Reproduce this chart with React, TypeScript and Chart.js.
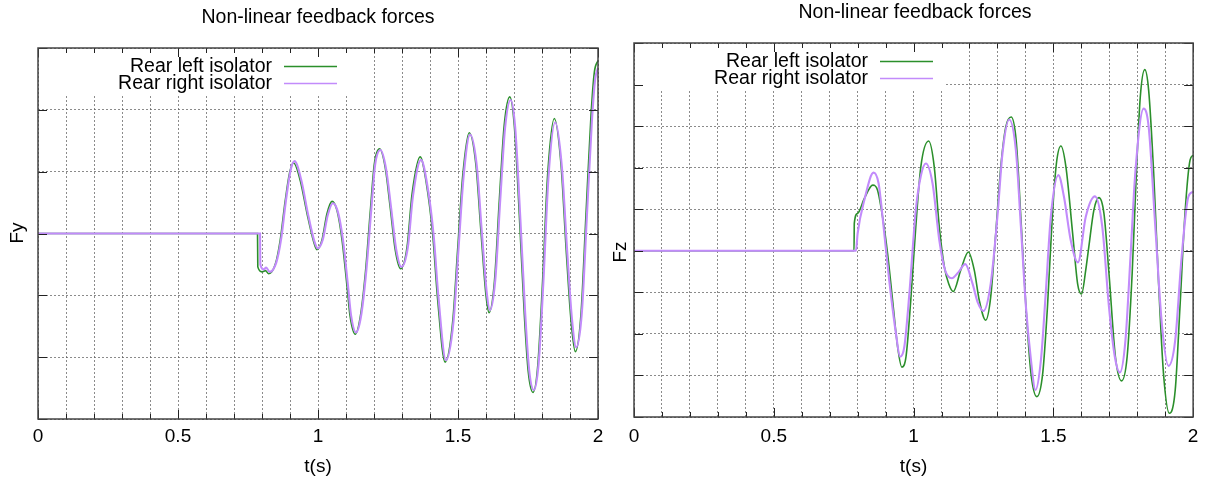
import React, { useEffect, useRef } from 'react';
import { Chart, registerables } from 'chart.js';

Chart.register(...registerables);

// ---------- text ----------
const chartTitle = 'Non-linear feedback forces';
const xAxisTitle = 't(s)';
const seriesNames = ['Rear left isolator', 'Rear right isolator'];

// ---------- axes ----------
const xGridValues = [0, 0.1, 0.2, 0.3, 0.4, 0.5, 0.6, 0.7, 0.8, 0.9, 1, 1.1, 1.2, 1.3, 1.4, 1.5, 1.6, 1.7, 1.8, 1.9, 2];
const xLabelValues = [0, 0.5, 1, 1.5, 2];
const xLabelTexts = ['0', '0.5', '1', '1.5', '2'];
const fyYTicks = [-3, -2, -1, 0, 1, 2, 3];
const fzYTicks = [-4, -3, -2, -1, 0, 1, 2, 3, 4, 5];

// ---------- Fy : rear left isolator ----------
const fyLeftT = [0, 0.784, 0.785, 0.800, 0.812, 0.824, 0.848, 0.865, 0.883, 0.899, 0.913, 0.937, 0.961, 0.985, 0.996, 1.014, 1.032, 1.050, 1.068, 1.086, 1.104, 1.115, 1.133, 1.151, 1.169, 1.187, 1.201, 1.220, 1.240, 1.258, 1.276, 1.295, 1.318, 1.336, 1.365, 1.386, 1.41, 1.427, 1.454, 1.481, 1.499, 1.517, 1.540, 1.564, 1.582, 1.600, 1.611, 1.630, 1.648, 1.665, 1.685, 1.701, 1.719, 1.737, 1.751, 1.768, 1.785, 1.802, 1.820, 1.844, 1.868, 1.886, 1.904, 1.919, 1.939, 1.957, 1.975, 1.987, 2.0];
const fyLeftV = [0, 0, -0.54, -0.62, -0.60, -0.65, -0.49, -0.11, 0.53, 0.99, 1.14, 0.85, 0.32, -0.14, -0.26, -0.11, 0.32, 0.52, 0.37, -0.11, -0.87, -1.35, -1.63, -1.35, -0.65, 0.37, 1.12, 1.37, 1.07, 0.42, -0.27, -0.57, -0.22, 0.64, 1.24, 0.84, -0.03, -1.05, -2.08, -1.43, -0.24, 0.94, 1.63, 1.11, 0.03, -1.0, -1.28, -0.78, 0.57, 1.75, 2.21, 1.75, 0.30, -1.32, -2.24, -2.57, -2.13, -0.78, 0.94, 1.86, 1.11, -0.24, -1.43, -1.91, -1.32, 0.30, 1.91, 2.61, 2.80];

// ---------- Fy : rear right isolator ----------
const fyRightT = [0, 0.793, 0.794, 0.806, 0.815, 0.827, 0.851, 0.868, 0.886, 0.902, 0.916, 0.940, 0.964, 0.988, 0.999, 1.017, 1.035, 1.053, 1.071, 1.089, 1.107, 1.118, 1.136, 1.154, 1.172, 1.190, 1.204, 1.223, 1.243, 1.261, 1.279, 1.298, 1.321, 1.339, 1.368, 1.389, 1.413, 1.430, 1.457, 1.484, 1.502, 1.520, 1.543, 1.567, 1.585, 1.603, 1.614, 1.633, 1.651, 1.668, 1.688, 1.704, 1.722, 1.740, 1.754, 1.771, 1.788, 1.805, 1.823, 1.847, 1.871, 1.889, 1.907, 1.922, 1.942, 1.960, 1.978, 1.990, 2.0];
const fyRightV = [0, 0, -0.50, -0.58, -0.55, -0.62, -0.47, -0.10, 0.55, 1.02, 1.17, 0.87, 0.32, -0.14, -0.24, -0.10, 0.30, 0.49, 0.35, -0.10, -0.84, -1.32, -1.60, -1.33, -0.63, 0.37, 1.11, 1.35, 1.05, 0.42, -0.25, -0.54, -0.22, 0.60, 1.19, 0.82, -0.03, -1.02, -2.05, -1.42, -0.24, 0.92, 1.60, 1.10, 0.03, -0.97, -1.24, -0.76, 0.55, 1.70, 2.16, 1.73, 0.30, -1.29, -2.20, -2.53, -2.10, -0.78, 0.90, 1.80, 1.08, -0.22, -1.38, -1.84, -1.30, 0.25, 1.80, 2.50, 2.68];

// ---------- Fz : rear left isolator ----------
const fzLeftT = [0, 0.787, 0.788, 0.800, 0.824, 0.854, 0.871, 0.889, 0.907, 0.925, 0.943, 0.958, 0.973, 0.990, 1.008, 1.026, 1.054, 1.074, 1.092, 1.110, 1.126, 1.142, 1.169, 1.196, 1.217, 1.235, 1.258, 1.276, 1.294, 1.312, 1.330, 1.349, 1.367, 1.385, 1.402, 1.420, 1.441, 1.462, 1.479, 1.497, 1.511, 1.527, 1.545, 1.569, 1.587, 1.601, 1.616, 1.627, 1.645, 1.663, 1.681, 1.699, 1.722, 1.744, 1.764, 1.782, 1.797, 1.811, 1.827, 1.841, 1.859, 1.876, 1.894, 1.915, 1.936, 1.953, 1.971, 1.989, 2.0];
const fzLeftV = [0, 0, 0.66, 0.90, 1.26, 1.58, 1.46, 0.82, -0.06, -1.19, -2.31, -2.80, -2.55, -1.19, 0.58, 2.02, 2.64, 2.02, 0.58, -0.38, -0.80, -0.98, -0.46, -0.03, -0.46, -1.19, -1.67, -1.11, 0.42, 2.02, 2.98, 3.22, 2.66, 0.66, -1.35, -2.95, -3.51, -2.95, -1.35, 0.90, 2.10, 2.52, 2.02, 0.42, -0.80, -1.04, -0.46, 0.10, 0.98, 1.28, 0.90, -0.54, -2.55, -3.13, -2.55, -0.54, 1.86, 3.70, 4.36, 3.86, 1.86, -0.71, -2.95, -3.91, -3.35, -1.35, 0.90, 2.18, 2.30];

// ---------- Fz : rear right isolator ----------
const fzRightT = [0, 0.794, 0.800, 0.824, 0.857, 0.875, 0.889, 0.913, 0.937, 0.952, 0.967, 0.985, 1.008, 1.026, 1.044, 1.068, 1.092, 1.112, 1.137, 1.160, 1.185, 1.211, 1.230, 1.250, 1.276, 1.300, 1.318, 1.342, 1.366, 1.384, 1.402, 1.420, 1.436, 1.456, 1.473, 1.491, 1.518, 1.538, 1.562, 1.588, 1.616, 1.649, 1.675, 1.699, 1.720, 1.738, 1.758, 1.776, 1.793, 1.823, 1.841, 1.864, 1.888, 1.912, 1.936, 1.959, 1.983, 2.0];
const fzRightV = [0, 0, 0.42, 1.22, 1.88, 1.62, 0.82, -0.71, -1.99, -2.55, -2.31, -1.03, 0.98, 1.80, 2.10, 1.62, 0.26, -0.45, -0.66, -0.52, -0.32, -0.79, -1.25, -1.45, -0.79, 0.82, 2.34, 3.16, 2.42, 0.58, -1.35, -2.63, -3.35, -2.60, -1.00, 0.82, 1.82, 1.30, 0.26, -0.28, 0.82, 1.31, 0.58, -1.35, -2.55, -2.93, -2.15, -0.14, 1.86, 3.42, 2.98, 0.66, -1.75, -2.77, -2.15, -0.14, 1.30, 1.42];

// ---------- styles ----------
const FONT = '"Liberation Sans", Arial, Helvetica, sans-serif';
const seriesColors = ['#2b8f2b', '#c28bfb'];
const seriesWidths = [1.6, 2.1];
const seriesOrder = [1, 0]; // purple drawn on top
const gridColor = 'rgba(90,90,90,0.7)';
const frameColor = '#444';
const LEGEND_SIZE = 19.5;
const TITLE_SIZE = 19.5;
const TICK_SIZE = 19;

type Panel = {
  left: number; width: number; height: number;
  area: { l: number; r: number; t: number; b: number };
  titleY: number; yMin: number; yMax: number; yTicks: number[];
  yLabel: string; yLabelX: number; yLabelY: number;
  legendW: number; legendH: number; legendRow0: number; legendRowGap: number;
  legendTextRight: number; sampleStart: number; sampleEnd: number;
  tickLabelY: number; axisTitleY: number;
  series: { t: number[]; v: number[] }[];
};

const fyPanel: Panel = {
  left: 0, width: 610, height: 479,
  area: { l: 38, r: 598, t: 48, b: 419 },
  titleY: 18, yMin: -3, yMax: 3, yTicks: fyYTicks,
  yLabel: 'Fy', yLabelX: 18, yLabelY: 233,
  legendW: 312, legendH: 45, legendRow0: 18.5, legendRowGap: 17,
  legendTextRight: 234, sampleStart: 246, sampleEnd: 299,
  tickLabelY: 437, axisTitleY: 467,
  series: [{ t: fyLeftT, v: fyLeftV }, { t: fyRightT, v: fyRightV }],
};

const fzPanel: Panel = {
  left: 610, width: 597, height: 479,
  area: { l: 24, r: 586, t: 43, b: 417 },
  titleY: 13, yMin: -4, yMax: 5, yTicks: fzYTicks,
  yLabel: 'Fz', yLabelX: 11, yLabelY: 252,
  legendW: 310, legendH: 46, legendRow0: 18.5, legendRowGap: 17,
  legendTextRight: 234, sampleStart: 246, sampleEnd: 299,
  tickLabelY: 437, axisTitleY: 467,
  series: [{ t: fzLeftT, v: fzLeftV }, { t: fzRightT, v: fzRightV }],
};

const gnuplotFrame = {
  id: 'gnuplotFrame',
  beforeDatasetsDraw(chart: any, _a: any, o: any) {
    const { ctx, chartArea: a } = chart;
    ctx.save();
    ctx.fillStyle = '#ffffff';
    ctx.fillRect(a.left + 1, a.top + 1, o.legendW, o.legendH);
    ctx.restore();
  },
  afterDatasetsDraw(chart: any, _a: any, o: any) {
    const { ctx, chartArea: a } = chart;
    ctx.save();
    // legend (gnuplot key)
    ctx.font = `${LEGEND_SIZE}px ${FONT}`;
    ctx.textAlign = 'right';
    ctx.textBaseline = 'middle';
    chart.data.datasets.forEach((ds: any, i: number) => {
      const y = a.top + o.legendRow0 + i * o.legendRowGap;
      ctx.fillStyle = '#000';
      ctx.fillText(ds.label, a.left + o.legendTextRight, y);
      ctx.strokeStyle = ds.borderColor;
      ctx.lineWidth = 1.5;
      ctx.beginPath();
      ctx.moveTo(a.left + o.sampleStart, y);
      ctx.lineTo(a.left + o.sampleEnd, y);
      ctx.stroke();
    });
    // inward tick marks
    const xs = chart.scales.x;
    const ys = chart.scales.y;
    ctx.strokeStyle = '#222';
    ctx.lineWidth = 1;
    ctx.beginPath();
    xs.ticks.forEach((t: any) => {
      const px = Math.round(xs.getPixelForValue(t.value)) + 0.5;
      const len = xLabelValues.indexOf(t.value) >= 0 ? 9 : 5;
      ctx.moveTo(px, a.bottom);
      ctx.lineTo(px, a.bottom - len);
      ctx.moveTo(px, a.top);
      ctx.lineTo(px, a.top + len);
    });
    ys.ticks.forEach((t: any) => {
      const py = Math.round(ys.getPixelForValue(t.value)) + 0.5;
      ctx.moveTo(a.left, py);
      ctx.lineTo(a.left + 9, py);
      ctx.moveTo(a.right, py);
      ctx.lineTo(a.right - 9, py);
    });
    ctx.stroke();
    // frame
    ctx.strokeStyle = frameColor;
    ctx.lineWidth = 1.5;
    ctx.strokeRect(a.left, a.top, a.right - a.left, a.bottom - a.top);
    // y axis label
    ctx.translate(o.yLabelX, o.yLabelY);
    ctx.rotate(-Math.PI / 2);
    ctx.textAlign = 'center';
    ctx.textBaseline = 'middle';
    ctx.fillStyle = '#000';
    ctx.font = `${TICK_SIZE}px ${FONT}`;
    ctx.fillText(o.yLabel, 0, 0);
    ctx.restore();
  },
};

function PanelChart({ p }: { p: Panel }) {
  const ref = useRef<HTMLCanvasElement>(null);
  useEffect(() => {
    const canvas = ref.current;
    if (!canvas) return;
    const tlh = TITLE_SIZE * 1.2;
    const klh = TICK_SIZE * 1.2;
    const chart = new Chart(canvas, {
      type: 'line',
      data: {
        datasets: p.series.map((s, i) => ({
          label: seriesNames[i],
          data: s.t.map((t, j) => ({ x: t, y: s.v[j] })),
          borderColor: seriesColors[i],
          backgroundColor: seriesColors[i],
          borderWidth: seriesWidths[i],
          order: seriesOrder[i],
          pointRadius: 0,
          fill: false,
          cubicInterpolationMode: 'monotone',
        })),
      },
      options: {
        responsive: false,
        animation: false,
        devicePixelRatio: 1,
        events: [],
        layout: { padding: { left: p.area.l, right: p.width - p.area.r, top: 0, bottom: 0 } },
        plugins: {
          legend: { display: false },
          tooltip: { enabled: false },
          title: {
            display: true,
            text: chartTitle,
            color: '#000',
            font: { size: TITLE_SIZE, weight: 'normal', family: FONT },
            padding: { top: p.titleY - tlh / 2, bottom: p.area.t - p.titleY - tlh / 2 },
          },
          gnuplotFrame: {
            legendW: p.legendW, legendH: p.legendH, legendRow0: p.legendRow0, legendRowGap: p.legendRowGap,
            legendTextRight: p.legendTextRight, sampleStart: p.sampleStart, sampleEnd: p.sampleEnd,
            yLabel: p.yLabel, yLabelX: p.yLabelX, yLabelY: p.yLabelY,
          },
        } as any,
        scales: {
          x: {
            type: 'linear',
            min: 0,
            max: 2,
            afterBuildTicks: (s: any) => { s.ticks = xGridValues.map((v) => ({ value: v })); },
            afterFit: (s: any) => { s.height = p.height - p.area.b; },
            ticks: {
              autoSkip: false,
              maxRotation: 0,
              minRotation: 0,
              padding: p.tickLabelY - p.area.b - klh / 2,
              color: '#000',
              font: { size: TICK_SIZE, family: FONT },
              callback: (v: any) => {
                const k = xLabelValues.indexOf(Number(v));
                return k >= 0 ? xLabelTexts[k] : '';
              },
            },
            grid: { color: gridColor, lineWidth: 1, drawTicks: false },
            border: { display: false, dash: [2, 2] },
            title: {
              display: true,
              text: xAxisTitle,
              color: '#000',
              font: { size: TICK_SIZE, family: FONT },
              padding: { top: 0, bottom: p.height - p.axisTitleY - klh / 2 },
            },
          },
          y: {
            type: 'linear',
            min: p.yMin,
            max: p.yMax,
            afterBuildTicks: (s: any) => { s.ticks = p.yTicks.map((v) => ({ value: v })); },
            afterFit: (s: any) => { s.width = 0; },
            ticks: { display: false },
            grid: { color: gridColor, lineWidth: 1, drawTicks: false },
            border: { display: false, dash: [2, 2] },
          },
        },
      } as any,
      plugins: [gnuplotFrame as any],
    });
    return () => chart.destroy();
  }, [p]);
  return (
    <canvas
      ref={ref}
      width={p.width}
      height={p.height}
      style={{ position: 'absolute', left: p.left, top: 0, width: p.width, height: p.height }}
    />
  );
}

export default function App() {
  return (
    <div style={{ position: 'absolute', left: 0, top: 0, width: 1207, height: 479, background: '#fff', overflow: 'hidden' }}>
      <PanelChart p={fyPanel} />
      <PanelChart p={fzPanel} />
    </div>
  );
}
